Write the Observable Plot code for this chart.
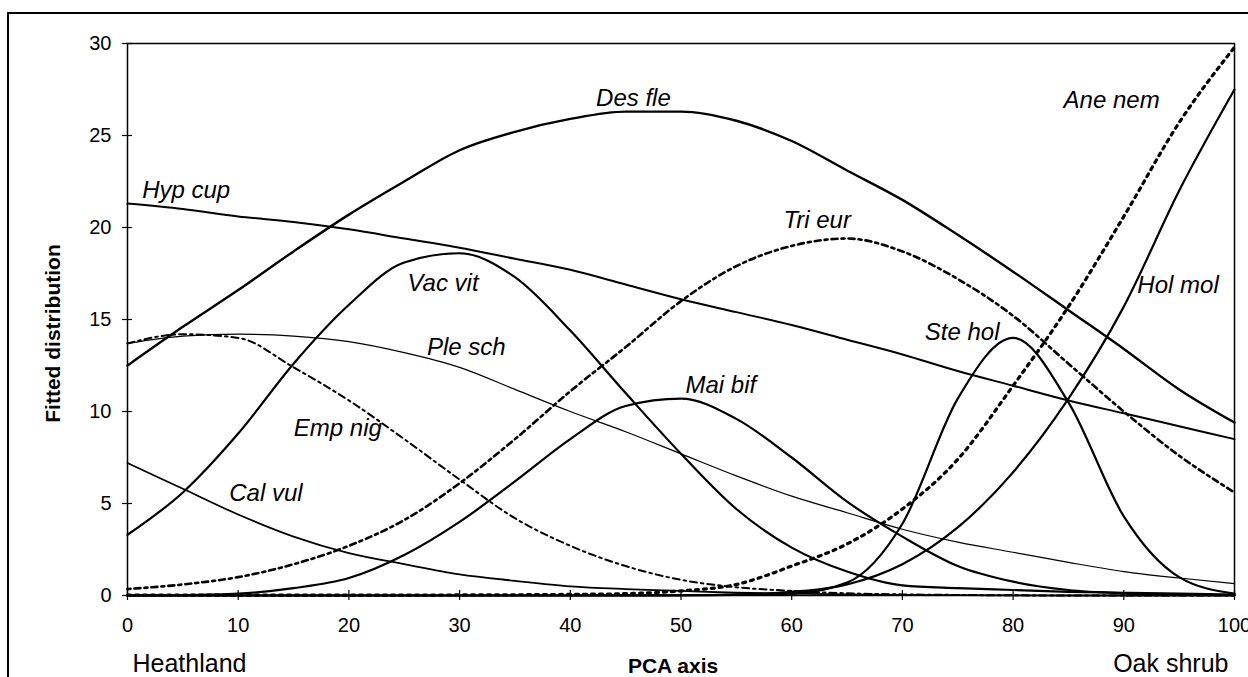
<!DOCTYPE html>
<html>
<head>
<meta charset="utf-8">
<script src="https://cdn.jsdelivr.net/npm/d3@7"></script>
<script src="https://cdn.jsdelivr.net/npm/@observablehq/plot@0.6"></script>
<style>
  html, body { margin: 0; padding: 0; background: #fff; }
  #wrap { position: relative; width: 1248px; height: 677px; overflow: hidden; }
  #border { position: absolute; left: 7px; top: 12px; width: 1300px; height: 700px;
            border-left: 2px solid #000; border-top: 2px solid #000; pointer-events: none; }
</style>
</head>
<body>
<div id="wrap"><div id="border"></div></div>
<script>
// PCA axis positions (sample points of the fitted curves)
const pca = [0, 5, 10, 15, 20, 25, 30, 35, 40, 45, 50, 55, 60, 65, 70, 75, 80, 85, 90, 95, 100];

// Fitted distributions per species
const desFle = [12.5, 14.6, 16.6, 18.7, 20.7, 22.5, 24.2, 25.2, 25.9, 26.3, 26.3, 25.8, 24.7, 23.1, 21.5, 19.6, 17.6, 15.5, 13.4, 11.2, 9.4];
const hypCup = [21.3, 21.0, 20.6, 20.3, 19.9, 19.4, 18.9, 18.3, 17.7, 16.9, 16.1, 15.4, 14.7, 13.9, 13.1, 12.2, 11.4, 10.6, 9.9, 9.2, 8.5];
const vacVit = [3.3, 5.6, 8.8, 12.6, 15.8, 18.1, 18.6, 17.3, 14.4, 11.0, 7.7, 4.7, 2.6, 1.3, 0.55, 0.4, 0.3, 0.2, 0.15, 0.1, 0.05];
const pleSch = [13.7, 14.1, 14.2, 14.1, 13.8, 13.2, 12.4, 11.2, 10.0, 8.9, 7.7, 6.5, 5.4, 4.5, 3.6, 2.9, 2.35, 1.8, 1.3, 0.95, 0.65];
const empNig = [13.7, 14.2, 14.0, 12.4, 10.6, 8.5, 6.3, 4.2, 2.7, 1.6, 0.85, 0.45, 0.25, 0.12, 0.06, 0.03, 0.01, 0, 0, 0, 0];
const calVul = [7.2, 5.8, 4.4, 3.2, 2.3, 1.7, 1.15, 0.8, 0.5, 0.35, 0.25, 0.15, 0.1, 0.06, 0.03, 0.02, 0.01, 0, 0, 0, 0];
const maiBif = [0, 0.02, 0.1, 0.4, 0.95, 2.2, 4.0, 6.2, 8.5, 10.3, 10.7, 9.6, 7.5, 5.1, 3.2, 1.6, 0.75, 0.3, 0.12, 0.05, 0.02];
const triEur = [0.35, 0.6, 1.0, 1.7, 2.7, 4.1, 6.1, 8.5, 11.1, 13.5, 16.0, 17.9, 19.0, 19.4, 18.7, 17.2, 15.2, 12.6, 10.0, 7.6, 5.6];
const steHol = [0, 0, 0, 0, 0, 0, 0, 0, 0, 0, 0.01, 0.03, 0.1, 0.7, 3.9, 10.7, 14.0, 10.5, 4.3, 1.0, 0.1];
const aneNem = [0.02, 0.02, 0.02, 0.02, 0.02, 0.02, 0.03, 0.04, 0.06, 0.1, 0.25, 0.6, 1.6, 2.8, 4.7, 7.4, 11.4, 15.7, 20.6, 25.7, 29.8];
const holMol = [0, 0, 0, 0, 0, 0, 0, 0, 0, 0.01, 0.02, 0.05, 0.2, 0.6, 1.7, 3.7, 6.7, 10.7, 15.7, 22.0, 27.5];

// Species names
const speciesNames = ["Des fle", "Hyp cup", "Vac vit", "Ple sch", "Emp nig", "Cal vul", "Mai bif", "Tri eur", "Ste hol", "Ane nem", "Hol mol"];
const speciesValues = [desFle, hypCup, vacVit, pleSch, empNig, calVul, maiBif, triEur, steHol, aneNem, holMol];

// Label anchor points (data units)
const labelX = [45.7, 5.3, 28.5, 30.6, 19.0, 12.5, 53.6, 62.3, 75.4, 88.9, 94.9];
const labelY = [27.0, 22.0, 16.95, 13.5, 9.1, 5.55, 11.4, 20.4, 14.3, 26.9, 16.85];

// Tick values
const xTicks = [0, 10, 20, 30, 40, 50, 60, 70, 80, 90, 100];
const yTicks = [0, 5, 10, 15, 20, 25, 30];

// Line styles
const styles = {
  "Des fle": {strokeWidth: 2.4},
  "Hyp cup": {strokeWidth: 2},
  "Vac vit": {strokeWidth: 2.2},
  "Ple sch": {strokeWidth: 1.2},
  "Emp nig": {strokeWidth: 2, strokeDasharray: "7,4,2.5,4"},
  "Cal vul": {strokeWidth: 1.8},
  "Mai bif": {strokeWidth: 2.2},
  "Tri eur": {strokeWidth: 2.6, strokeDasharray: "3,4,6,4"},
  "Ste hol": {strokeWidth: 2.2},
  "Ane nem": {strokeWidth: 3.2, strokeDasharray: "3,5"},
  "Hol mol": {strokeWidth: 2.2}
};

const W = 1248, H = 677;
const mL = 127, mR = 14, mT = 43, mB = 82;
const plotW = W - mL - mR, plotH = H - mT - mB;

const lineMarks = speciesNames.map((name, i) => {
  const data = pca.map((x, j) => ({x, y: speciesValues[i][j]}));
  return Plot.line(data, {x: "x", y: "y", curve: "monotone-x", stroke: "black", ...styles[name]});
});

const labels = speciesNames.map((name, i) => ({name, x: labelX[i], y: labelY[i]}));
const font = "'Liberation Sans', Arial, Helvetica, sans-serif";

const chart = Plot.plot({
  width: W,
  height: H,
  marginLeft: mL,
  marginRight: mR,
  marginTop: mT,
  marginBottom: mB,
  style: {fontFamily: font, color: "black", background: "white", overflow: "visible"},
  x: {domain: [0, 100]},
  y: {domain: [0, 30]},
  marks: [
    ...lineMarks,
    Plot.frame({stroke: "black", strokeWidth: 1.5}),
    Plot.axisX({ticks: xTicks, tickSize: 5, tickPadding: 17, fontSize: 20, label: null, stroke: "black", strokeWidth: 1.2}),
    Plot.axisY({ticks: yTicks, tickSize: 5, tickPadding: 11, fontSize: 20, label: null, stroke: "black", strokeWidth: 1.2}),
    Plot.tickX(xTicks, {x: d => d, insetTop: plotH - 5, stroke: "black", strokeWidth: 1.2}),
    Plot.tickY(yTicks, {y: d => d, insetRight: plotW - 5, stroke: "black", strokeWidth: 1.2}),
    Plot.text(labels.filter(d => d.name === "Cal vul"), {x: "x", y: "y", text: "name", fontSize: 24, fontStyle: "italic", fill: "black", stroke: "white", strokeWidth: 7}),
    Plot.text(labels.filter(d => d.name !== "Cal vul"), {x: "x", y: "y", text: "name", fontSize: 24, fontStyle: "italic", fill: "black"}),
    Plot.text(["PCA axis"], {text: d => d, frameAnchor: "bottom", lineAnchor: "middle", textAnchor: "middle", dx: -8, dy: 71, fontSize: 21, fontWeight: "bold", fill: "black"}),
    Plot.text(["Heathland"], {text: d => d, frameAnchor: "bottom-left", lineAnchor: "middle", textAnchor: "start", dx: 5, dy: 68, fontSize: 25, fill: "black"}),
    Plot.text(["Oak shrub"], {text: d => d, frameAnchor: "bottom-right", lineAnchor: "middle", textAnchor: "end", dx: -6, dy: 68, fontSize: 25, fill: "black"}),
    Plot.text(["Fitted distribution"], {text: d => d, frameAnchor: "left", lineAnchor: "middle", textAnchor: "middle", rotate: -90, dx: -74, dy: 14, fontSize: 21, fontWeight: "bold", fill: "black"})
  ]
});

document.getElementById("wrap").insertBefore(chart, document.getElementById("border"));
</script>
</body>
</html>
